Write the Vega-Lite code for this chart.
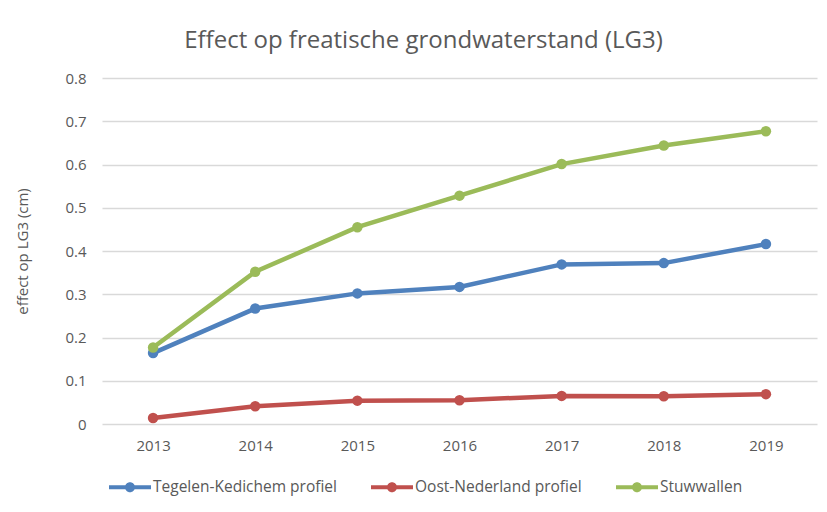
{
  "$schema": "https://vega.github.io/schema/vega-lite/v6.json",
  "autosize": {"type": "none"},
  "width": 715,
  "height": 346,
  "padding": {"left": 102, "top": 78, "right": 10, "bottom": 88},
  "background": "white",
  "title": {
    "text": "Effect op freatische grondwaterstand (LG3)",
    "font": "Open Sans",
    "fontSize": 24,
    "fontWeight": "normal",
    "color": "#595959",
    "anchor": "middle",
    "dx": -36,
    "offset": 18
  },
  "data": {
    "values": [
      {"jaar": "2013", "reeks": "Tegelen-Kedichem profiel", "waarde": 0.164},
      {"jaar": "2014", "reeks": "Tegelen-Kedichem profiel", "waarde": 0.267},
      {"jaar": "2015", "reeks": "Tegelen-Kedichem profiel", "waarde": 0.302},
      {"jaar": "2016", "reeks": "Tegelen-Kedichem profiel", "waarde": 0.317},
      {"jaar": "2017", "reeks": "Tegelen-Kedichem profiel", "waarde": 0.369},
      {"jaar": "2018", "reeks": "Tegelen-Kedichem profiel", "waarde": 0.372},
      {"jaar": "2019", "reeks": "Tegelen-Kedichem profiel", "waarde": 0.416},
      {"jaar": "2013", "reeks": "Oost-Nederland profiel", "waarde": 0.014},
      {"jaar": "2014", "reeks": "Oost-Nederland profiel", "waarde": 0.041},
      {"jaar": "2015", "reeks": "Oost-Nederland profiel", "waarde": 0.054},
      {"jaar": "2016", "reeks": "Oost-Nederland profiel", "waarde": 0.055},
      {"jaar": "2017", "reeks": "Oost-Nederland profiel", "waarde": 0.065},
      {"jaar": "2018", "reeks": "Oost-Nederland profiel", "waarde": 0.064},
      {"jaar": "2019", "reeks": "Oost-Nederland profiel", "waarde": 0.069},
      {"jaar": "2013", "reeks": "Stuwwallen", "waarde": 0.177},
      {"jaar": "2014", "reeks": "Stuwwallen", "waarde": 0.352},
      {"jaar": "2015", "reeks": "Stuwwallen", "waarde": 0.455},
      {"jaar": "2016", "reeks": "Stuwwallen", "waarde": 0.528},
      {"jaar": "2017", "reeks": "Stuwwallen", "waarde": 0.601},
      {"jaar": "2018", "reeks": "Stuwwallen", "waarde": 0.644},
      {"jaar": "2019", "reeks": "Stuwwallen", "waarde": 0.677}
    ]
  },
  "encoding": {
    "x": {
      "field": "jaar",
      "type": "ordinal",
      "scale": {"type": "point", "padding": 0.5},
      "axis": {
        "title": null,
        "labelAngle": 0,
        "labelFont": "Open Sans",
        "labelFontSize": 15,
        "labelColor": "#595959",
        "labelPadding": 14,
        "ticks": false,
        "domain": false,
        "grid": false
      }
    },
    "y": {
      "field": "waarde",
      "type": "quantitative",
      "scale": {"domain": [0, 0.8], "nice": false, "zero": true},
      "axis": {
        "values": [0, 0.1, 0.2, 0.3, 0.4, 0.5, 0.6, 0.7, 0.8],
        "format": "~g",
        "title": "effect op LG3 (cm)",
        "titleFont": "Open Sans",
        "titleFontSize": 15,
        "titleFontWeight": "normal",
        "titleColor": "#595959",
        "titlePadding": 34,
        "labelFont": "Open Sans",
        "labelFontSize": 15,
        "labelColor": "#595959",
        "labelPadding": 16,
        "ticks": false,
        "domain": false,
        "grid": true,
        "gridColor": "#d9d9d9",
        "gridWidth": 1.5
      }
    },
    "color": {
      "field": "reeks",
      "type": "nominal",
      "scale": {
        "domain": ["Tegelen-Kedichem profiel", "Oost-Nederland profiel", "Stuwwallen"],
        "range": ["#4F81BD", "#C0504D", "#9BBB59"]
      },
      "legend": {
        "title": null,
        "orient": "none",
        "legendX": 18,
        "legendY": 399,
        "direction": "horizontal",
        "labelFont": "Open Sans",
        "labelFontSize": 15.5,
        "labelColor": "#595959",
        "labelLimit": 0,
        "labelOffset": 13,
        "columnPadding": 34,
        "symbolType": "M-2.1,-0.2L2.1,-0.2L2.1,0.2L-2.1,0.2Z M0.5,0A0.5,0.5,0,1,1,-0.5,0A0.5,0.5,0,1,1,0.5,0Z",
        "symbolSize": 400,
        "symbolStrokeWidth": 0,
        "symbolOpacity": 1
      }
    }
  },
  "layer": [
    {"mark": {"type": "line", "strokeWidth": 4.5}},
    {"mark": {"type": "point", "filled": true, "size": 110, "opacity": 1}}
  ],
  "config": {
    "view": {"stroke": null}
  }
}
